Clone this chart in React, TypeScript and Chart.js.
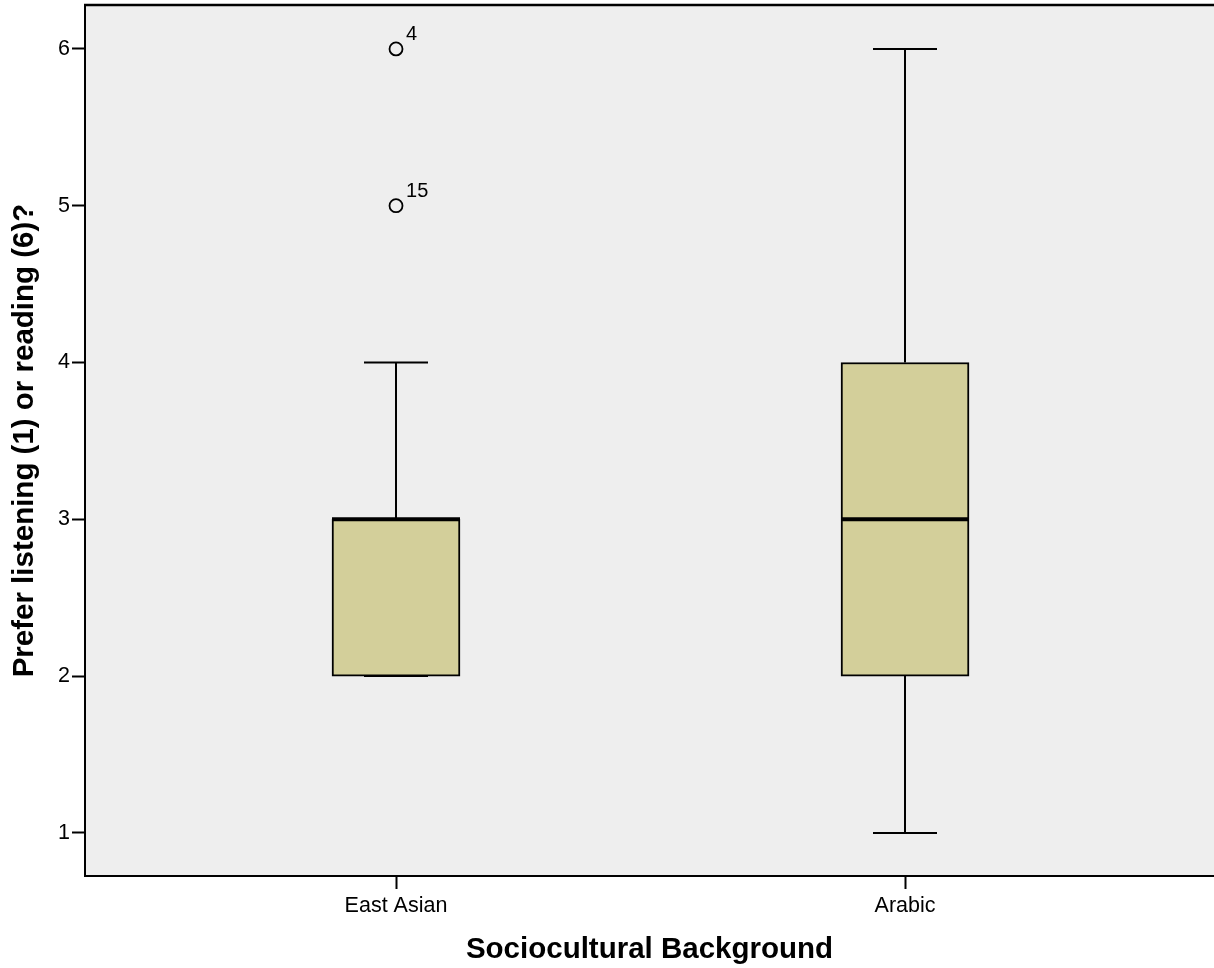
import React, { useEffect, useRef } from "react";
import { Chart, registerables } from "chart.js";

Chart.register(...registerables);

const categories = ["East Asian", "Arabic"];
const whiskerLow = [2, 1];
const quartile1 = [2, 2];
const medians = [3, 3];
const quartile3 = [3, 4];
const whiskerHigh = [4, 6];
const outlierCategory = [0, 0];
const outlierValues = [6, 5];
const outlierLabels = ["4", "15"];
const yTickValues = [1, 2, 3, 4, 5, 6];

const FONT = "'Liberation Sans', Arial, Helvetica, sans-serif";
const BOX_PX = 128;

const boxPlugin = {
  id: "boxDecor",
  beforeDraw(chart: any) {
    const { ctx, chartArea } = chart;
    ctx.save();
    ctx.fillStyle = "#eeeeee";
    ctx.fillRect(chartArea.left, chartArea.top, chartArea.right - chartArea.left, chartArea.bottom - chartArea.top);
    ctx.restore();
  },
  beforeDatasetsDraw(chart: any) {
    const { ctx } = chart;
    const xs = chart.scales.x;
    const ys = chart.scales.y;
    ctx.save();
    ctx.strokeStyle = "#000";
    ctx.lineWidth = 2;
    categories.forEach((_, i) => {
      const cx = Math.round(xs.getPixelForValue(i));
      const half = BOX_PX / 4;
      const yLo = ys.getPixelForValue(whiskerLow[i]);
      const yQ1 = ys.getPixelForValue(quartile1[i]);
      const yQ3 = ys.getPixelForValue(quartile3[i]);
      const yHi = ys.getPixelForValue(whiskerHigh[i]);
      ctx.beginPath();
      ctx.moveTo(cx, yHi);
      ctx.lineTo(cx, yQ3);
      ctx.moveTo(cx, yQ1);
      ctx.lineTo(cx, yLo);
      ctx.moveTo(cx - half, yHi);
      ctx.lineTo(cx + half, yHi);
      ctx.moveTo(cx - half, yLo);
      ctx.lineTo(cx + half, yLo);
      ctx.stroke();
    });
    ctx.restore();
  },
  afterDatasetsDraw(chart: any) {
    const { ctx, chartArea } = chart;
    const xs = chart.scales.x;
    const ys = chart.scales.y;
    ctx.save();
    ctx.strokeStyle = "#000";
    ctx.lineWidth = 4;
    categories.forEach((_, i) => {
      const cx = Math.round(xs.getPixelForValue(i));
      const y = ys.getPixelForValue(medians[i]);
      ctx.beginPath();
      ctx.moveTo(cx - BOX_PX / 2, y);
      ctx.lineTo(cx + BOX_PX / 2, y);
      ctx.stroke();
    });
    ctx.fillStyle = "#000";
    ctx.font = `20px ${FONT}`;
    ctx.textAlign = "left";
    ctx.textBaseline = "alphabetic";
    outlierValues.forEach((v, i) => {
      const px = xs.getPixelForValue(outlierCategory[i]);
      const py = ys.getPixelForValue(v);
      ctx.fillText(outlierLabels[i], px + 10, py - 9);
    });
    ctx.lineWidth = 2.5;
    ctx.beginPath();
    ctx.moveTo(chartArea.left - 1, chartArea.top);
    ctx.lineTo(chartArea.right, chartArea.top);
    ctx.stroke();
    ctx.restore();
  },
};

export default function App() {
  const ref = useRef<HTMLCanvasElement>(null);
  useEffect(() => {
    document.body.style.margin = "0";
    const canvas = ref.current!;
    const chart = new Chart(canvas, {
      type: "bar",
      data: {
        datasets: [
          {
            type: "bar",
            data: categories.map((_, i) => ({ x: i, y: [quartile1[i], quartile3[i]] })) as any,
            backgroundColor: "#d3cf9a",
            borderColor: "#000",
            borderWidth: 2,
            borderSkipped: false,
            barThickness: BOX_PX,
          } as any,
          {
            type: "scatter",
            data: outlierValues.map((v, i) => ({ x: outlierCategory[i], y: v })),
            pointRadius: 6.5,
            pointBorderWidth: 1.8,
            pointBackgroundColor: "rgba(0,0,0,0)",
            pointBorderColor: "#000",
            showLine: false,
          } as any,
        ],
      },
      options: {
        responsive: false,
        animation: false,
        devicePixelRatio: 1,
        layout: { autoPadding: false, padding: { top: 5, right: 0, bottom: 0, left: 0 } },
        plugins: { legend: { display: false }, tooltip: { enabled: false } },
        scales: {
          x: {
            type: "linear",
            min: -0.611,
            max: 1.607,
            offset: false,
            grid: { offset: false, drawOnChartArea: false, tickLength: 13, tickColor: "#000", tickWidth: 2 },
            border: { color: "#000", width: 2 },
            afterBuildTicks: (s: any) => {
              s.ticks = categories.map((_, i) => ({ value: i }));
            },
            afterFit: (s: any) => {
              s.height = 92;
              s.paddingLeft = 0;
              s.paddingRight = 0;
            },
            ticks: {
              color: "#000",
              font: { family: FONT, size: 21.5 },
              padding: 4,
              maxRotation: 0,
              autoSkip: false,
              callback: (v: any) => categories[v] ?? "",
            },
            title: {
              display: true,
              text: "Sociocultural Background",
              color: "#000",
              font: { family: FONT, size: 29.5, weight: "bold" },
              padding: { top: 0, bottom: 0 },
            },
          },
          y: {
            type: "linear",
            min: 0.725,
            max: 6.28,
            grid: { drawOnChartArea: false, tickLength: 13, tickColor: "#000", tickWidth: 2 },
            border: { color: "#000", width: 2 },
            afterBuildTicks: (s: any) => {
              s.ticks = yTickValues.map((v) => ({ value: v }));
            },
            afterFit: (s: any) => {
              s.width = 85;
              s.paddingTop = 0;
              s.paddingBottom = 0;
            },
            ticks: {
              color: "#000",
              font: { family: FONT, size: 21.5 },
              padding: 2,
              callback: (v: any) => String(v),
            },
            title: {
              display: true,
              text: "Prefer listening (1) or reading (6)?",
              color: "#000",
              font: { family: FONT, size: 29.5, weight: "bold" },
              padding: { top: 7, bottom: 0 },
            },
          },
        },
      },
      plugins: [boxPlugin],
    });
    return () => chart.destroy();
  }, []);
  return <canvas ref={ref} width={1214} height={968} style={{ display: "block" }} />;
}
